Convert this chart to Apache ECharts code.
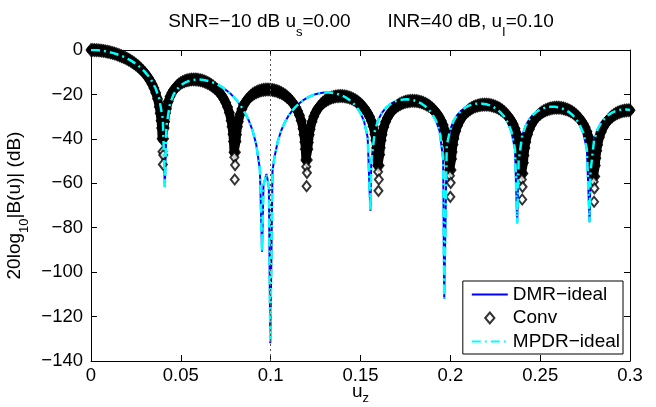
<!DOCTYPE html>
<html><head><meta charset="utf-8">
<script src="https://cdn.jsdelivr.net/npm/echarts/dist/echarts.min.js"></script>
<style>html,body{margin:0;padding:0;background:#fff}#c{width:656px;height:407px}</style>
</head><body><div id="c"></div>
<script>
const FONT = '"Liberation Sans", Arial, Helvetica, sans-serif';
const xTickStep = 0.05, yTickStep = 20;
const xRange = [0, 0.3], yRange = [-140, 0];
const interfererU = 0.1;

// Conv pattern (dB), sampled every 0.001 in u from 0 to 0.3 (null = exact null, not sampled)
const convStep = 0.001;
const convDb = [
0,-0.01,-0.04,-0.08,-0.14,-0.22,-0.32,-0.44,-0.58,-0.74,-0.91,-1.11,-1.33,-1.57,-1.83,-2.11,-2.42,-2.76,-3.12,-3.50,
-3.92,-4.37,-4.86,-5.38,-5.94,-6.55,-7.20,-7.91,-8.69,-9.53,-10.45,-11.48,-12.62,-13.91,-15.39,-17.13,-19.23,-21.90,-25.61,-31.83,
null,-32.26,-26.47,-23.20,-20.96,-19.30,-18.01,-16.98,-16.14,-15.45,-14.88,-14.42,-14.05,-13.76,-13.54,-13.39,-13.29,-13.25,-13.27,-13.33,
-13.45,-13.62,-13.84,-14.12,-14.45,-14.83,-15.28,-15.79,-16.38,-17.04,-17.80,-18.66,-19.65,-20.79,-22.13,-23.73,-25.70,-28.25,-31.84,-37.94,
null,-38.16,-32.27,-28.90,-26.56,-24.81,-23.43,-22.30,-21.38,-20.61,-19.97,-19.43,-18.99,-18.63,-18.34,-18.11,-17.95,-17.85,-17.80,-17.81,
-17.87,-17.98,-18.15,-18.37,-18.64,-18.98,-19.37,-19.83,-20.37,-20.99,-21.70,-22.51,-23.46,-24.56,-25.85,-27.41,-29.34,-31.85,-35.40,-41.47,
null,-41.61,-35.69,-32.28,-29.92,-28.13,-26.71,-25.56,-24.60,-23.80,-23.13,-22.57,-22.09,-21.70,-21.38,-21.13,-20.94,-20.81,-20.74,-20.72,
-20.76,-20.84,-20.98,-21.18,-21.43,-21.74,-22.12,-22.56,-23.07,-23.67,-24.35,-25.15,-26.07,-27.15,-28.43,-29.97,-31.88,-34.37,-37.90,-43.95,
null,-44.05,-38.11,-34.69,-32.30,-30.50,-29.07,-27.90,-26.92,-26.11,-25.42,-24.84,-24.35,-23.94,-23.61,-23.34,-23.14,-22.99,-22.91,-22.87,
-22.89,-22.97,-23.09,-23.28,-23.51,-23.81,-24.17,-24.60,-25.10,-25.68,-26.36,-27.14,-28.05,-29.12,-30.38,-31.91,-33.81,-36.29,-39.81,-45.85,
null,-45.93,-39.98,-36.54,-34.15,-32.33,-30.89,-29.71,-28.72,-27.90,-27.20,-26.61,-26.11,-25.69,-25.35,-25.07,-24.86,-24.71,-24.61,-24.57,
-24.58,-24.64,-24.76,-24.93,-25.16,-25.45,-25.80,-26.22,-26.72,-27.29,-27.96,-28.73,-29.64,-30.69,-31.95,-33.47,-35.36,-37.83,-41.35,-47.37,
null,-47.44,-41.48,-38.04,-35.64,-33.81,-32.36,-31.18,-30.19,-29.35,-28.65,-28.05,-27.54,-27.12,-26.77,-26.49,-26.27,-26.11,-26.00,-25.96,
-25.96,-26.02,-26.13,-26.30,-26.52,-26.80,-27.15,-27.56,-28.05,-28.62,-29.28,-30.05,-30.95,-32.00,-33.25,-34.76,-36.65,-39.12,-42.62,-48.64,
null,-48.70,-42.74,-39.29,-36.88,-35.05,-33.60,-32.41,-31.41,-30.57,-29.86,-29.26,-28.75,-28.32,-27.96,-27.68,-27.45,-27.29,-27.18,-27.12,
-27.12
];

// Conv markers read close to each null: dense part of the band [u, dB]
const convNullBand = [
[0.0385,-28.5],[0.0415,-28.5],[0.0393,-35.1],[0.0407,-35.1],[0.0396,-40.0],[0.0404,-40.0],
[0.0785,-34.5],[0.0815,-34.5],[0.0793,-41.2],[0.0807,-41.2],[0.0796,-46.0],[0.0804,-46.0],
[0.1185,-38.1],[0.1215,-38.1],[0.1193,-44.7],[0.1207,-44.7],[0.1196,-49.5],[0.1204,-49.5],
[0.1585,-40.6],[0.1615,-40.6],[0.1593,-47.2],[0.1607,-47.2],[0.1596,-52.0],[0.1604,-52.0],
[0.1985,-42.5],[0.2015,-42.5],[0.1993,-49.1],[0.2007,-49.1],[0.1996,-54.0],[0.2004,-54.0],
[0.2385,-44.1],[0.2415,-44.1],[0.2393,-50.7],[0.2407,-50.7],[0.2396,-55.6],[0.2404,-55.6],
[0.2785,-45.4],[0.2815,-45.4],[0.2793,-52.0],[0.2807,-52.0],[0.2796,-56.9],[0.2804,-56.9]
];
// ...and the separate (open) diamonds at the bottom of each null [u, dB]
const convNullOpen = [
[0.0398,-45.8],[0.0402,-47.3],[0.0400,-51.5],
[0.0798,-48.3],[0.0802,-51.8],[0.0800,-58.3],
[0.1198,-52.5],[0.1202,-55.3],[0.1200,-61.3],
[0.1598,-54.8],[0.1602,-58.3],[0.1600,-63.4],
[0.1998,-56.6],[0.2002,-59.8],[0.2000,-66.1],
[0.2398,-58.3],[0.2402,-61.6],[0.2400,-67.3],
[0.2798,-59.3],[0.2802,-62.3],[0.2800,-68.3]
];

// DMR-ideal and MPDR-ideal coincide in the picture: one set of [u, dB] readings
const adaptivePattern = [
[0,0],[0.002,-0.04],[0.004,-0.14],[0.006,-0.32],[0.008,-0.57],[0.010,-0.89],[0.012,-1.30],[0.014,-1.78],[0.016,-2.35],[0.018,-3.01],
[0.020,-3.78],[0.022,-4.67],[0.024,-5.68],[0.026,-6.86],[0.028,-8.24],[0.030,-9.85],[0.032,-11.79],[0.034,-14.19],[0.036,-17.35],[0.038,-21.96],
[0.040,-31.18],[0.0411,-61.6],[0.042,-33.94],[0.044,-24.05],[0.046,-19.95],[0.048,-17.54],[0.050,-15.92],[0.052,-14.83],[0.054,-14.09],[0.056,-13.62],
[0.058,-13.37],[0.060,-13.31],[0.062,-13.42],[0.064,-13.70],[0.066,-14.12],[0.068,-14.68],[0.070,-15.40],[0.072,-16.27],[0.074,-17.31],[0.076,-18.54],
[0.078,-19.97],[0.080,-21.65],[0.082,-23.61],[0.084,-25.93],[0.086,-28.71],[0.088,-32.07],[0.090,-36.45],[0.092,-42.7],[0.094,-53.8],[0.0952,-90.8],
[0.096,-60.8],[0.0977,-55.8],[0.099,-61.8],[0.0998,-132],[0.101,-54.8],[0.102,-48.7],[0.104,-40.97],[0.106,-36.00],[0.108,-32.36],[0.110,-29.52],
[0.112,-27.29],[0.114,-25.46],[0.116,-23.94],[0.118,-22.68],[0.120,-21.65],[0.122,-20.82],[0.124,-20.18],[0.126,-19.69],[0.128,-19.36],[0.130,-19.18],
[0.132,-19.14],[0.134,-19.28],[0.136,-19.55],[0.138,-20.00],[0.140,-20.63],[0.142,-21.46],[0.144,-22.56],[0.146,-23.97],[0.148,-25.82],[0.150,-28.37],
[0.152,-32.13],[0.154,-39.5],[0.1555,-72.4],[0.156,-50.5],[0.158,-36.32],[0.160,-31.18],[0.162,-28.18],[0.164,-26.15],[0.166,-24.71],[0.168,-23.67],
[0.170,-22.95],[0.172,-22.49],[0.174,-22.24],[0.176,-22.20],[0.178,-22.37],[0.180,-22.75],[0.182,-23.34],[0.184,-24.18],[0.186,-25.32],[0.188,-26.85],
[0.190,-28.91],[0.192,-31.82],[0.194,-36.44],[0.196,-49.0],[0.1966,-112],[0.198,-43.0],[0.200,-35.60],[0.202,-31.62],[0.204,-29.09],[0.206,-27.35],
[0.208,-26.07],[0.210,-25.18],[0.212,-24.58],[0.214,-24.22],[0.216,-24.07],[0.218,-24.16],[0.220,-24.44],[0.222,-24.94],[0.224,-25.69],[0.226,-26.72],
[0.228,-28.13],[0.230,-30.01],[0.232,-32.65],[0.234,-36.69],[0.236,-44.82],[0.2372,-78],[0.238,-49.98],[0.240,-38.50],[0.242,-33.93],[0.244,-31.13],
[0.246,-29.20],[0.248,-27.82],[0.250,-26.84],[0.252,-26.17],[0.254,-25.75],[0.256,-25.56],[0.258,-25.59],[0.260,-25.81],[0.262,-26.27],[0.264,-26.97],
[0.266,-27.95],[0.268,-29.27],[0.270,-31.06],[0.272,-33.60],[0.274,-37.34],[0.276,-44.61],[0.2775,-77.5],[0.278,-55.0],[0.280,-40.61],[0.282,-35.64],
[0.284,-32.69],[0.286,-30.67],[0.288,-29.23],[0.290,-28.21],[0.292,-27.49],[0.294,-27.02],[0.296,-26.79],[0.298,-26.78],[0.300,-26.97]
];

// Build the Conv marks from the readings above
const convBandPts = [];
convDb.forEach((v, i) => { if (v !== null) convBandPts.push([+(i * convStep).toFixed(4), v]); });
convNullBand.forEach(p => convBandPts.push(p));
convBandPts.sort((a, b) => a[0] - b[0]);
const convData = convBandPts.slice();
convNullOpen.forEach(p => convData.push({
  value: p, symbolSize: [8, 10],
  itemStyle: { color: '#fff', borderColor: '#000', borderWidth: 2 }
}));

const minusFmt = v => (v < 0 ? '\u2212' + Math.abs(v) : String(v));
const TICK = 18.5;
const mkRich = (pad) => ({
  n: { fontFamily: FONT, fontSize: 19, fontWeight: 'normal', color: '#000', verticalAlign: 'top' },
  s: { fontFamily: FONT, fontSize: 13, fontWeight: 'normal', color: '#000', verticalAlign: 'top', padding: [pad, 0, 0, 0] }
});
const axisLineStyle = { color: '#000', width: 1 };

const chart = echarts.init(document.getElementById('c'), null, { renderer: 'canvas' });
chart.setOption({
  animation: false,
  backgroundColor: '#fff',
  title: {
    text: '{n|SNR=\u221210 dB u}{s|s}{n|=0.00       INR=40 dB, u}{s|I}{n|=0.10}',
    left: 361, top: 12, textAlign: 'center', padding: 0,
    textStyle: { fontWeight: 'normal', rich: mkRich(14) }
  },
  grid: { left: 91, right: 26, top: 50, bottom: 46, outerBoundsMode: 'none', containLabel: false },
  xAxis: [
    {
      type: 'value', min: xRange[0], max: xRange[1], interval: xTickStep, position: 'bottom',
      axisLine: { show: true, onZero: false, lineStyle: axisLineStyle },
      axisTick: { show: true, inside: true, length: 6, lineStyle: axisLineStyle },
      axisLabel: { color: '#000', fontFamily: FONT, fontSize: TICK, margin: 5, showMinLabel: true, showMaxLabel: true },
      splitLine: { show: false },
      name: '{n|u}{s|z}', nameLocation: 'middle', nameGap: 21, nameMoveOverlap: false,
      nameTextStyle: { rich: mkRich(10) }
    },
    {
      type: 'value', min: xRange[0], max: xRange[1], interval: xTickStep, position: 'top',
      axisLine: { show: true, onZero: false, lineStyle: axisLineStyle },
      axisTick: { show: true, inside: true, length: 6, lineStyle: axisLineStyle },
      axisLabel: { show: false }, splitLine: { show: false }
    }
  ],
  yAxis: [
    {
      type: 'value', min: yRange[0], max: yRange[1], interval: yTickStep, position: 'left',
      axisLine: { show: true, onZero: false, lineStyle: axisLineStyle },
      axisTick: { show: true, inside: true, length: 6, lineStyle: axisLineStyle },
      axisLabel: { color: '#000', fontFamily: FONT, fontSize: TICK, margin: 8, formatter: minusFmt, showMinLabel: true, showMaxLabel: true },
      splitLine: { show: false },
      name: '{n|20log}{s|10}{n||B(u)| (dB)}', nameLocation: 'middle', nameGap: 37, nameRotate: 90,
      nameTextStyle: { rich: mkRich(12) }
    },
    {
      type: 'value', min: yRange[0], max: yRange[1], interval: yTickStep, position: 'right',
      axisLine: { show: true, onZero: false, lineStyle: axisLineStyle },
      axisTick: { show: true, inside: true, length: 6, lineStyle: axisLineStyle },
      axisLabel: { show: false }, splitLine: { show: false }
    }
  ],
  legend: {
    orient: 'vertical', right: 33, bottom: 53,
    backgroundColor: '#fff', borderColor: '#000', borderWidth: 1, borderRadius: 0,
    padding: [4, 3, 3, 8], itemGap: 4.5, itemWidth: 36, itemHeight: 11,
    textStyle: { fontFamily: FONT, fontSize: 19, color: '#000' },
    data: [
      { name: 'DMR\u2212ideal', itemStyle: { color: 'rgba(0,0,0,0)', borderWidth: 0 } },
      { name: 'Conv', icon: 'path://M5 0L10 6L5 12L0 6Z', itemStyle: { color: '#fff', borderColor: '#000', borderWidth: 2 } },
      { name: 'MPDR\u2212ideal', itemStyle: { color: 'rgba(0,0,0,0)', borderWidth: 0 } }
    ]
  },
  series: [
    {
      name: 'DMR\u2212ideal', type: 'line', data: adaptivePattern, symbol: 'none', showSymbol: false,
      lineStyle: { color: '#0000ff', width: 2 }, itemStyle: { color: '#0000ff' }, z: 2,
      markLine: {
        silent: true, symbol: ['none', 'none'], label: { show: false },
        lineStyle: { color: '#555', type: [2, 3], width: 1 },
        data: [{ xAxis: interfererU }]
      }
    },
    {
      // dense Conv markers merge into a solid band: drawn as a wide stroke through the same readings
      name: 'convBand', type: 'line', data: convBandPts, symbol: 'none', showSymbol: false,
      lineStyle: { color: '#000', width: 9, join: 'round', cap: 'round' }, z: 3, silent: true
    },
    {
      name: 'Conv', type: 'scatter', data: convData, symbol: 'diamond', symbolSize: [10, 13],
      itemStyle: { color: '#000', borderColor: '#000', borderWidth: 1 }, z: 3
    },
    {
      name: 'MPDR\u2212ideal', type: 'line', data: adaptivePattern, symbol: 'none', showSymbol: false,
      lineStyle: { color: '#00ffff', width: 2.5, type: [9, 4, 2, 4] }, itemStyle: { color: '#00ffff' }, z: 4
    }
  ]
});
</script></body></html>
